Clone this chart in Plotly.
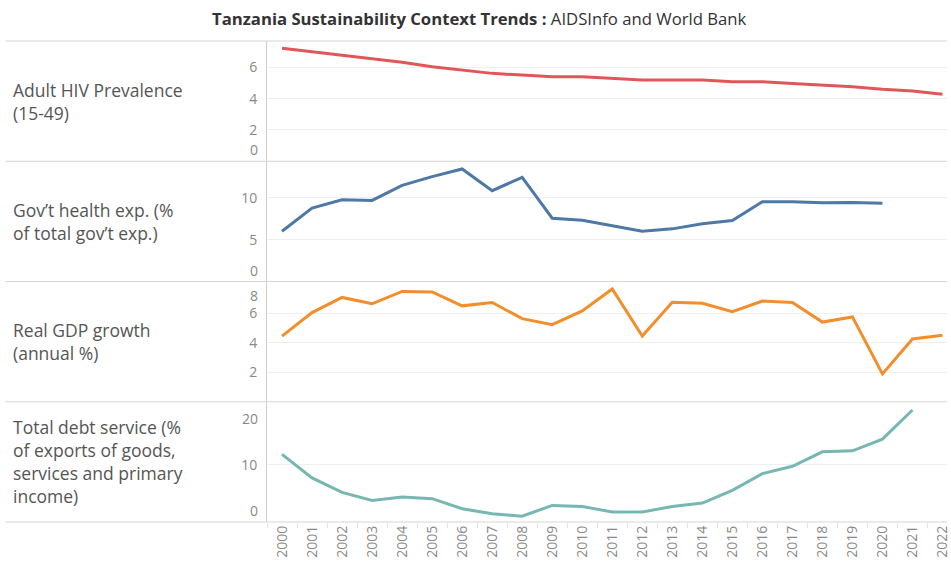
import plotly.graph_objects as go
from plotly.subplots import make_subplots

years = [str(y) for y in range(2000, 2023)]

hiv_prevalence = [7.22, 7.0, 6.75, 6.54, 6.33, 6.05, 5.83, 5.62, 5.51, 5.41, 5.41, 5.3,
                  5.2, 5.2, 5.2, 5.09, 5.09, 4.98, 4.88, 4.77, 4.6, 4.49, 4.28]
gov_health_exp = [6.0, 8.75, 9.76, 9.68, 11.47, 12.52, 13.43, 10.84, 12.43, 7.55, 7.3, 6.68,
                  6.0, 6.28, 6.88, 7.28, 9.52, 9.52, 9.4, 9.44, 9.35, None, None]
gdp_growth = [4.45, 6.04, 7.07, 6.64, 7.48, 7.44, 6.5, 6.73, 5.63, 5.22, 6.16, 7.64,
              4.45, 6.75, 6.68, 6.11, 6.82, 6.73, 5.4, 5.75, 1.89, 4.26, 4.51]
debt_service = [11.8, 7.7, 5.18, 3.77, 4.35, 4.07, 2.32, 1.44, 1.02, 2.9, 2.72, 1.73,
                1.73, 2.72, 3.3, 5.53, 8.45, 9.74, 12.25, 12.43, 14.47, 19.56, None]

row_labels = [
    ["Adult HIV Prevalence", "(15-49)"],
    ["Gov\u2019t health exp. (%", "of total gov\u2019t exp.)"],
    ["Real GDP growth", "(annual %)"],
    ["Total debt service (%", "of exports of goods,", "services and primary", "income)"],
]
series = [hiv_prevalence, gov_health_exp, gdp_growth, debt_service]
colors = ["#E15759", "#4E79A7", "#F28E2B", "#76B7B2"]
y_ranges = [[0, 7.69], [0, 14.35], [0, 8.15], [0, 21.0]]
inner_ticks = [[2, 4, 6], [5, 10], [2, 4, 6], [10]]
edge_ticks = [[(0, "bottom")], [(0, "bottom")], [(8, "top")], [(0, "bottom"), (20, "top")]]

FONT = "Open Sans"
W, H = 951, 561
L, T, B = 267, 41, 39

fig = make_subplots(rows=4, cols=1, shared_xaxes=True, vertical_spacing=0)

for i, (vals, col) in enumerate(zip(series, colors)):
    fig.add_trace(go.Scatter(x=years, y=vals, mode="lines",
                             line=dict(color=col, width=3),
                             connectgaps=False, showlegend=False,
                             hoverinfo="x+y"), row=i + 1, col=1)
    fig.update_yaxes(range=y_ranges[i], tickvals=inner_ticks[i],
                     showgrid=True, gridcolor="#efefef", gridwidth=1,
                     zeroline=False, showline=True, linecolor="#cfcfcf", linewidth=1,
                     ticks="", ticklabelstandoff=6,
                     tickfont=dict(family=FONT, size=14, color="#888888"),
                     fixedrange=True, row=i + 1, col=1)
    yref = "y" if i == 0 else f"y{i + 1}"
    for v, anchor in edge_ticks[i]:
        fig.add_annotation(x=(260 - L) / (W - L), xref="paper", xanchor="right",
                           y=v, yref=yref, yanchor=anchor, showarrow=False,
                           text=str(v),
                           font=dict(family=FONT, size=14, color="#888888"))

fig.update_xaxes(type="category", range=[-0.5, 22.15], showgrid=False,
                 zeroline=False, showline=False, showticklabels=False, ticks="",
                 fixedrange=True)
fig.update_xaxes(showticklabels=True, tickangle=-90, ticks="outside",
                 tickson="boundaries", ticklen=5, tickcolor="#e4e4e4",
                 tickfont=dict(family=FONT, size=14, color="#8a8a8a"),
                 row=4, col=1)

# separators between rows
for k in range(5):
    yp = 1 - k * 0.25
    fig.add_shape(type="line", xref="paper", yref="paper",
                  x0=(4 - L) / (W - L), x1=1, y0=yp, y1=yp,
                  line=dict(color="#d6d6d6", width=1))

# row labels
line_h = 23
for i, lines in enumerate(row_labels):
    center = 1 - (i + 0.5) * 0.25
    n = len(lines)
    for j, txt in enumerate(lines):
        off = (j - (n - 1) / 2) * line_h
        fig.add_annotation(x=(9 - L) / (W - L), xref="paper", xanchor="left",
                           y=center, yref="paper", yanchor="middle", yshift=-off,
                           text=txt, showarrow=False, align="left",
                           font=dict(family=FONT, size=17.5, color="#555555"))

# title
fig.add_annotation(x=(480.5 - L) / (W - L), xref="paper", xanchor="center",
                   y=1, yref="paper", yanchor="middle", yshift=(T - 18),
                   text="<b>Tanzania Sustainability Context Trends :</b> AIDSInfo and World Bank",
                   showarrow=False,
                   font=dict(family=FONT, size=16.7, color="#333333"))

fig.update_layout(width=W, height=H,
                  margin=dict(l=L, r=0, t=T, b=B, pad=0),
                  paper_bgcolor="white", plot_bgcolor="white",
                  hovermode="closest")

fig.write_html("out.html", config={"displayModeBar": False},
               post_script="document.body.style.margin='0';document.body.style.overflow='hidden';")
